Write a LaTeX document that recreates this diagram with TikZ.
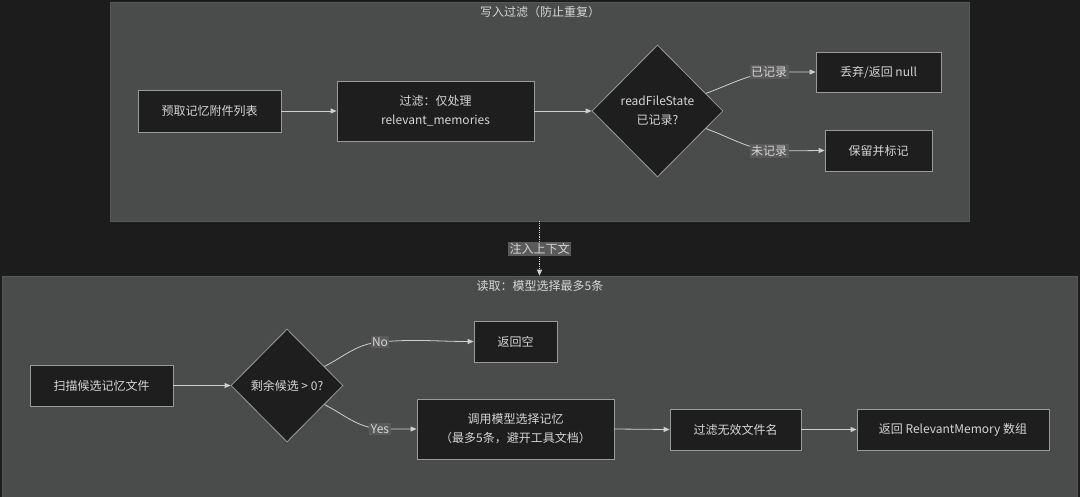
\documentclass[tikz,border=0pt]{standalone}
\usepackage{fontspec}
\setmainfont{Noto Sans CJK SC}
\usetikzlibrary{shapes.geometric,arrows.meta}
\definecolor{bgc}{HTML}{1C1C1C}
\definecolor{clfill}{HTML}{4A4B4B}
\definecolor{clline}{HTML}{565757}
\definecolor{nfill}{HTML}{1E1E1E}
\definecolor{nline}{HTML}{9A9A9A}
\definecolor{txt}{HTML}{D6D6D6}
\definecolor{edgec}{HTML}{CFCFCF}
\definecolor{lblfill}{HTML}{5A5A5A}
\begin{document}
\begin{tikzpicture}[x=1pt,y=-1pt,
  font=\fontsize{12}{19}\selectfont,
  cluster/.style={draw=clline, fill=clfill, line width=0.6pt, inner sep=0pt},
  ctitle/.style={text=txt, inner sep=0pt},
  box/.style={rectangle, draw=nline, fill=nfill, text=txt, line width=0.8pt, inner sep=0pt, align=center},
  dia/.style={diamond, aspect=1, draw=nline, fill=nfill, text=txt, line width=0.8pt, inner sep=0pt, align=center},
  edge/.style={draw=edgec, line width=0.8pt, -{Triangle[length=6pt,width=5pt]}},
  elabel/.style={fill=lblfill, text=txt, inner sep=1.5pt}
]
\useasboundingbox (0,0) rectangle (1080,497);
\fill[bgc] (0,0) rectangle (1080,497);

% clusters
\node[cluster, minimum width=859pt, minimum height=219pt] (top) at (539.5,111.5) {};
\node[cluster, minimum width=1075pt, minimum height=226pt] (bot) at (539.5,389) {};
\node[ctitle] (ttop) at (540,12) {写入过滤（防止重复）};
\node[ctitle] (tbot) at (540,286) {读取：模型选择最多5条};

% top nodes
\node[box, minimum width=143pt, minimum height=42pt] (b1) at (209.5,111) {预取记忆附件列表};
\node[box, minimum width=197pt, minimum height=60pt] (b2) at (435.5,111) {过滤：仅处理\\relevant\_memories};
\node[dia, minimum width=131pt, minimum height=132pt] (d1) at (657.5,111) {readFileState\\已记录?};
\node[box, minimum width=125pt, minimum height=40pt] (b3) at (878.5,72) {丢弃/返回 null};
\node[box, minimum width=107pt, minimum height=41pt] (b4) at (878.5,150.5) {保留并标记};

% bottom nodes
\node[box, minimum width=143pt, minimum height=41pt] (c1) at (101.5,385.5) {扫描候选记忆文件};
\node[dia, minimum width=112pt, minimum height=113pt] (d2) at (287,385.5) {剩余候选 > 0?};
\node[box, minimum width=83pt, minimum height=41pt] (c2) at (515.5,341.5) {返回空};
\node[box, minimum width=197pt, minimum height=60pt] (c3) at (515.5,429) {调用模型选择记忆\\（最多5条，避开工具文档）};
\node[box, minimum width=131pt, minimum height=41pt] (c4) at (735.5,429.5) {过滤无效文件名};
\node[box, minimum width=192pt, minimum height=41pt] (c5) at (953,429.5) {返回 RelevantMemory 数组};

% label positions
\coordinate (p1) at (769,72);
\coordinate (p2) at (769,151);
\coordinate (p3) at (380,342);
\coordinate (p4) at (380,429);
\coordinate (p5) at (539.5,249);

% edges
\draw[edge] (b1.east) -- (b2.west);
\draw[edge] (b2.east) -- (d1.west);
\draw[edge] (d1.20) to[out=20,in=190] (p1) -- (b3.west);
\draw[edge] (d1.-20) to[out=-20,in=170] (p2) -- (b4.west);
\draw[edge] (c1.east) -- (d2.west);
\draw[edge] (d2.27) to[out=27,in=185] (p3) to[out=5,in=180] (c2.west);
\draw[edge] (d2.-27) to[out=-27,in=175] (p4) -- (c3.west);
\draw[edge] (c3.east) -- (c4.west);
\draw[edge] (c4.east) -- (c5.west);
\draw[edge, densely dotted, line width=0.7pt] (top.south) -- (bot.north);

% edge labels
\node[elabel] (l1) at (p1) {已记录};
\node[elabel] (l2) at (p2) {未记录};
\node[elabel] (l3) at (p3) {No};
\node[elabel] (l4) at (p4) {Yes};
\node[elabel] (l5) at (p5) {注入上下文};
\end{tikzpicture}
\end{document}
